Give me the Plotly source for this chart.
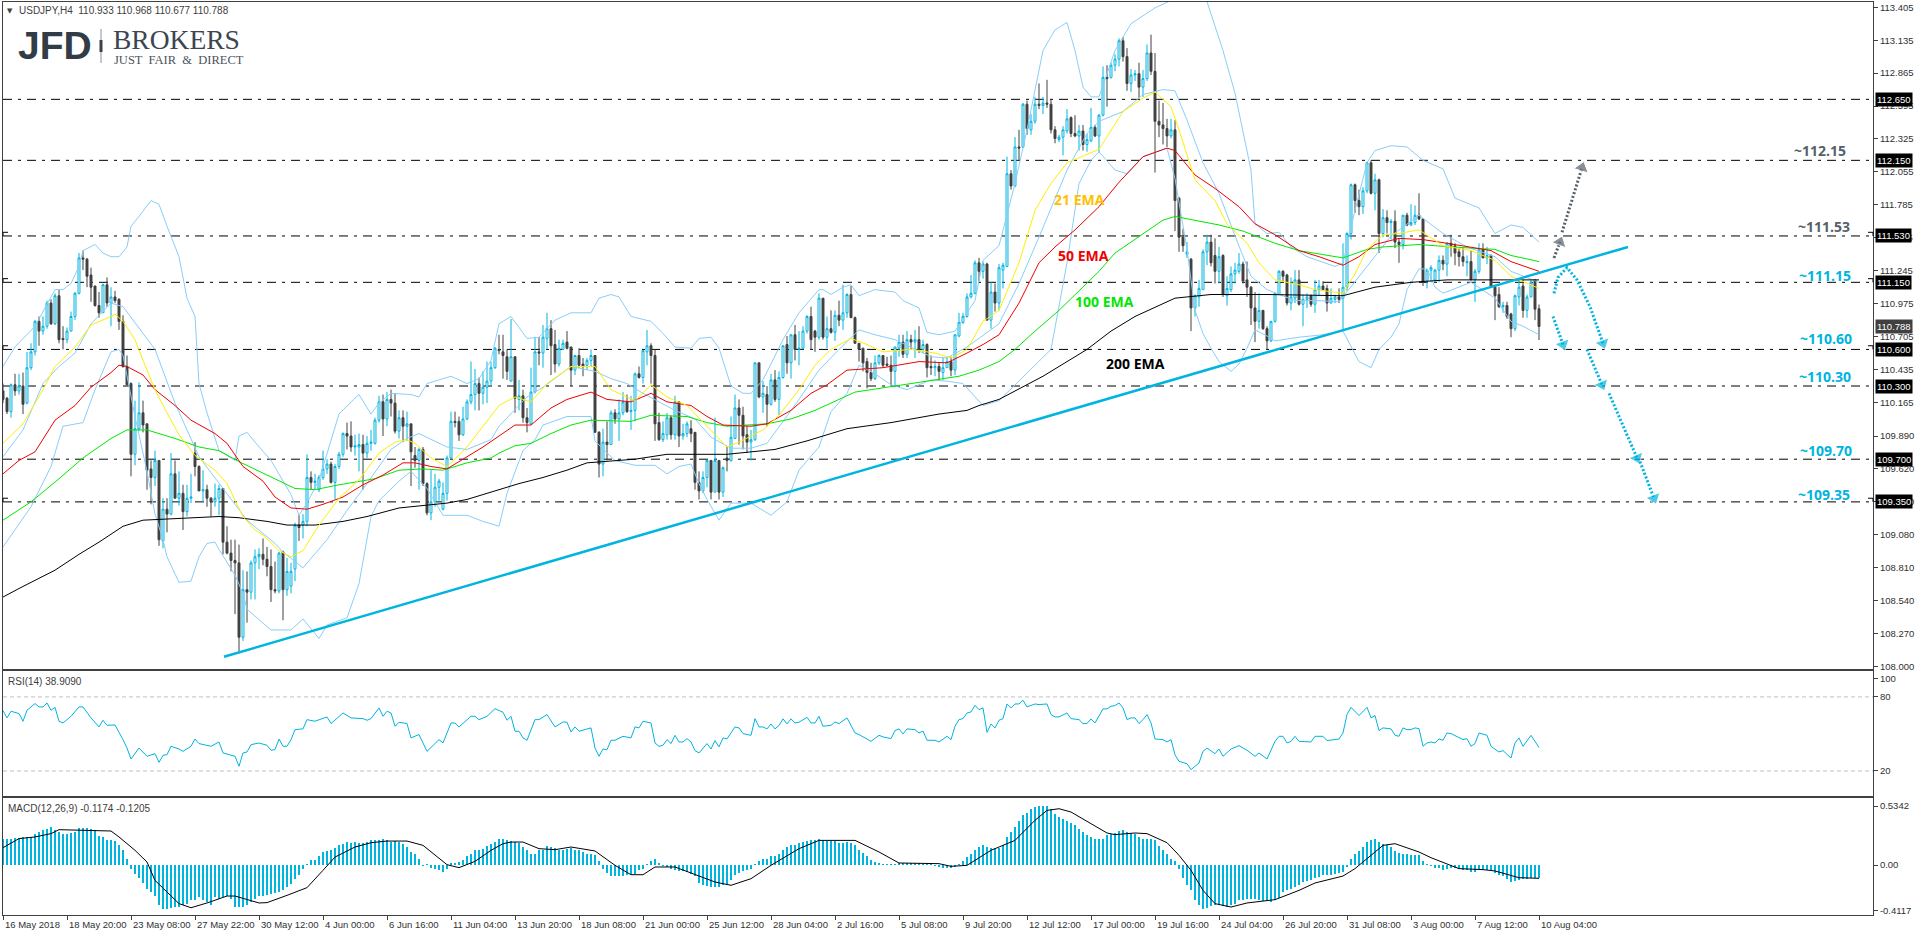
import plotly.graph_objects as go

opens = [
    110.26,110.20,110.09,110.31,110.26,110.30,110.16,110.45,110.58,110.83,
    110.75,110.79,110.98,110.81,111.04,110.69,110.68,110.75,110.87,111.06,
    111.35,111.34,111.21,111.12,110.96,110.90,111.13,110.98,111.03,111.01,
    110.83,110.46,110.32,109.74,109.95,110.08,109.99,109.62,109.55,109.69,
    109.03,109.29,109.25,109.58,109.38,109.42,109.27,109.38,109.75,109.64,
    109.44,109.45,109.38,109.35,109.38,109.46,109.02,108.93,108.87,108.85,
    108.24,108.63,108.61,108.85,108.90,108.92,108.88,108.82,108.63,108.62,
    108.94,108.63,108.66,108.80,109.16,109.16,109.19,109.55,109.51,109.45,
    109.55,109.62,109.66,109.51,109.64,109.74,109.91,109.89,109.80,109.80,
    109.82,109.75,109.83,109.83,110.02,110.17,110.03,110.19,110.16,109.93,
    110.04,109.97,109.99,109.73,109.69,109.78,109.50,109.26,109.35,109.47,
    109.29,109.42,109.71,110.01,110.01,109.90,110.03,110.17,110.23,110.32,
    110.24,110.29,110.34,110.45,110.60,110.58,110.54,110.34,110.54,110.19,
    110.22,110.04,109.99,110.25,110.58,110.57,110.69,110.77,110.64,110.48,
    110.60,110.66,110.62,110.43,110.55,110.48,110.47,110.51,110.55,109.92,
    109.66,109.84,109.82,110.08,110.03,110.08,110.17,110.09,110.10,110.40,
    110.37,110.58,110.63,110.55,110.00,109.86,109.90,110.04,109.90,110.17,
    109.89,109.91,109.95,109.92,109.51,109.44,109.55,109.69,109.43,109.69,
    109.43,109.71,109.69,109.87,110.12,110.06,109.90,109.84,109.86,110.49,
    110.21,110.23,110.15,110.35,110.19,110.37,110.64,110.49,110.72,110.60,
    110.61,110.75,110.87,110.75,110.70,111.02,110.70,110.77,110.74,110.88,
    110.84,110.90,111.05,110.86,110.65,110.61,110.50,110.41,110.36,110.49,
    110.55,110.48,110.47,110.42,110.61,110.66,110.56,110.68,110.66,110.68,
    110.60,110.64,110.46,110.45,110.46,110.41,110.45,110.50,110.43,110.71,
    110.82,110.87,111.03,111.06,111.31,111.24,111.30,110.84,111.07,110.98,
    111.25,111.28,112.04,111.94,112.26,112.26,112.61,112.40,112.47,112.61,
    112.60,112.62,112.61,112.40,112.32,112.34,112.39,112.50,112.37,112.35,
    112.39,112.28,112.31,112.42,112.35,112.52,112.83,112.83,112.93,112.98,
    113.13,113.00,112.78,112.85,112.86,112.75,112.82,113.03,112.88,112.47,
    112.44,112.41,112.35,112.40,111.84,111.52,111.38,111.34,110.94,111.03,
    111.09,111.40,111.48,111.37,111.24,111.37,111.04,111.09,111.22,111.24,
    111.30,111.17,111.11,110.94,110.83,110.92,110.77,110.67,110.83,111.05,
    111.24,111.21,110.98,111.02,111.17,110.97,111.01,111.04,110.97,111.09,
    111.12,111.10,110.98,111.01,111.03,111.02,111.11,111.55,111.95,111.82,
    111.77,111.90,112.13,111.88,111.99,111.55,111.68,111.64,111.65,111.48,
    111.46,111.70,111.62,111.64,111.70,111.67,111.16,111.25,111.17,111.25,
    111.33,111.30,111.47,111.45,111.40,111.36,111.31,111.32,111.17,111.24,
    111.42,111.35,111.37,111.11,111.05,110.95,110.96,110.89,110.77,111.03,
    111.12,110.92,111.03,111.17,110.933,
]
highs = [
    110.32,110.21,110.32,110.40,110.40,110.41,110.58,110.65,110.84,110.87,
    110.87,111.00,111.01,111.06,111.09,110.79,110.78,110.91,111.07,111.39,
    111.41,111.35,111.27,111.12,111.07,111.14,111.19,111.11,111.08,111.02,
    110.88,110.55,110.33,110.18,110.33,110.18,109.99,109.69,109.77,109.69,
    109.38,109.38,109.75,109.69,109.60,109.49,109.49,109.58,109.84,109.65,
    109.61,109.49,109.39,109.50,109.49,109.46,109.15,109.04,109.04,109.00,
    108.79,108.78,108.87,108.96,108.97,109.05,108.98,108.96,108.86,108.94,
    108.95,108.89,108.85,109.18,109.24,109.25,109.74,109.60,109.58,109.57,
    109.77,109.70,109.68,109.66,109.76,109.92,110.00,110.01,109.90,109.91,
    109.90,109.89,109.94,110.04,110.22,110.23,110.25,110.27,110.24,110.10,
    110.10,110.09,109.99,109.80,109.79,109.80,109.51,109.61,109.58,109.54,
    109.51,109.73,110.09,110.09,110.05,110.13,110.19,110.50,110.44,110.37,
    110.42,110.50,110.50,110.62,110.72,110.72,110.60,110.85,110.54,110.35,
    110.27,110.12,110.45,110.70,110.70,110.80,110.90,110.84,110.76,110.68,
    110.68,110.75,110.62,110.55,110.61,110.53,110.53,110.60,110.55,109.93,
    109.95,110.01,110.10,110.11,110.19,110.25,110.23,110.22,110.41,110.46,
    110.59,110.76,110.65,110.60,110.08,110.01,110.08,110.06,110.22,110.17,
    109.99,110.01,110.02,109.92,109.60,109.60,109.69,109.69,110.04,109.69,
    109.64,109.80,110.05,110.23,110.19,110.13,109.97,109.94,110.49,110.49,
    110.34,110.30,110.40,110.43,110.42,110.63,110.71,110.72,110.80,110.75,
    110.79,110.88,110.95,110.76,111.06,111.02,110.87,110.92,110.92,111.00,
    111.13,111.06,111.12,110.87,110.65,110.61,110.53,110.49,110.55,110.56,
    110.55,110.54,110.55,110.62,110.72,110.72,110.75,110.72,110.76,110.79,
    110.68,110.65,110.55,110.51,110.49,110.53,110.54,110.54,110.72,110.90,
    110.90,111.06,111.21,111.33,111.35,111.32,111.31,111.15,111.14,111.30,
    111.31,112.18,112.07,112.34,112.40,112.62,112.64,112.53,112.67,112.78,
    112.67,112.81,112.65,112.43,112.36,112.43,112.57,112.51,112.52,112.44,
    112.44,112.37,112.58,112.44,112.53,112.92,112.93,112.95,113.02,113.15,
    113.16,113.07,112.90,112.89,112.95,112.89,113.10,113.18,113.03,112.64,
    112.62,112.49,112.49,112.48,111.85,111.59,111.48,111.35,111.05,111.17,
    111.42,111.54,111.54,111.51,111.44,111.38,111.20,111.28,111.31,111.39,
    111.32,111.32,111.12,111.07,111.06,110.92,110.79,110.83,111.06,111.25,
    111.25,111.22,111.19,111.25,111.25,111.05,111.06,111.05,111.17,111.17,
    111.16,111.13,111.10,111.05,111.10,111.47,111.56,111.96,111.96,111.91,
    111.93,112.14,112.15,112.04,112.00,111.75,111.74,111.67,111.74,111.51,
    111.70,111.72,111.79,111.78,111.88,111.67,111.26,111.29,111.26,111.37,
    111.37,111.48,111.54,111.47,111.43,111.43,111.37,111.41,111.26,111.47,
    111.47,111.44,111.38,111.13,111.11,110.99,110.99,110.90,111.05,111.17,
    111.17,111.05,111.17,111.17,110.968,
]
lows = [
    110.16,110.07,110.04,110.22,110.23,110.07,110.15,110.43,110.55,110.63,
    110.72,110.77,110.80,110.80,110.65,110.60,110.65,110.75,110.84,111.05,
    111.25,111.11,110.99,110.95,110.86,110.90,110.95,110.79,110.98,110.76,
    110.45,110.31,109.56,109.65,109.93,109.92,109.45,109.33,109.48,108.99,
    108.97,109.10,109.24,109.38,109.32,109.12,109.23,109.34,109.56,109.44,
    109.35,109.31,109.23,109.31,109.24,108.92,108.92,108.78,108.43,108.11,
    108.21,108.36,108.55,108.55,108.80,108.83,108.74,108.53,108.60,108.60,
    108.38,108.58,108.60,108.70,109.03,109.05,109.15,109.45,109.45,109.43,
    109.53,109.58,109.50,109.37,109.62,109.72,109.78,109.76,109.73,109.60,
    109.45,109.71,109.77,109.82,110.00,109.89,109.97,110.05,109.91,109.87,
    109.84,109.85,109.48,109.63,109.45,109.48,109.24,109.20,109.31,109.36,
    109.28,109.36,109.70,109.96,109.85,109.89,110.02,110.15,110.10,110.10,
    110.15,110.16,110.30,110.44,110.56,110.36,110.35,110.34,110.08,110.10,
    110.00,109.92,109.98,110.24,110.47,110.45,110.60,110.39,110.41,110.46,
    110.60,110.60,110.30,110.39,110.45,110.38,110.43,110.46,109.92,109.55,
    109.56,109.69,109.82,109.99,109.85,110.06,110.08,109.94,110.01,110.36,
    110.32,110.47,110.32,109.85,109.85,109.84,109.86,109.86,109.86,109.80,
    109.86,109.88,109.84,109.45,109.37,109.42,109.47,109.37,109.43,109.37,
    109.39,109.60,109.68,109.87,109.82,109.78,109.75,109.69,109.85,110.20,
    110.08,109.97,110.14,110.17,110.06,110.36,110.40,110.36,110.51,110.47,
    110.60,110.73,110.60,110.58,110.68,110.68,110.61,110.73,110.67,110.79,
    110.76,110.86,110.86,110.65,110.50,110.42,110.28,110.34,110.35,110.47,
    110.45,110.46,110.30,110.30,110.54,110.53,110.53,110.60,110.53,110.57,
    110.57,110.37,110.39,110.38,110.34,110.35,110.45,110.38,110.39,110.70,
    110.81,110.86,111.02,111.05,111.16,111.18,110.84,110.77,110.91,110.92,
    111.10,111.28,111.91,111.93,112.15,112.25,112.36,112.36,112.45,112.57,
    112.53,112.58,112.37,112.29,112.30,112.19,112.37,112.34,112.34,112.23,
    112.23,112.22,112.30,112.34,112.21,112.51,112.59,112.82,112.88,112.92,
    112.96,112.72,112.71,112.80,112.66,112.67,112.80,112.85,112.05,112.34,
    112.28,112.26,112.33,111.57,111.40,111.40,111.35,110.75,110.87,110.95,
    111.09,111.29,111.28,111.14,111.14,111.03,110.96,111.07,111.14,111.22,
    111.14,111.03,110.80,110.66,110.77,110.76,110.60,110.66,110.82,111.05,
    111.16,110.96,110.92,110.98,110.96,110.79,110.94,110.95,110.90,111.04,
    111.09,110.91,110.98,110.98,110.98,110.76,111.08,111.50,111.72,111.70,
    111.71,111.88,111.87,111.74,111.39,111.52,111.55,111.50,111.43,111.31,
    111.42,111.61,111.61,111.62,111.66,111.12,111.10,111.15,111.15,111.15,
    111.25,111.20,111.36,111.29,111.28,111.28,111.20,111.17,110.99,111.22,
    111.35,111.30,111.11,110.84,110.94,110.90,110.85,110.70,110.75,110.96,
    110.86,110.86,111.03,110.84,110.677,
]
closes = [
    110.19,110.09,110.31,110.26,110.30,110.15,110.45,110.58,110.83,110.75,
    110.79,110.98,110.81,111.04,110.68,110.68,110.75,110.87,111.06,111.35,
    111.34,111.20,111.11,110.96,110.90,111.13,110.98,111.03,111.00,110.83,
    110.46,110.31,109.74,109.95,110.08,109.98,109.61,109.55,109.69,109.04,
    109.29,109.25,109.58,109.38,109.42,109.27,109.38,109.39,109.64,109.44,
    109.45,109.38,109.35,109.38,109.46,109.02,108.93,108.87,108.85,108.24,
    108.63,108.61,108.85,108.90,108.92,108.88,108.82,108.63,108.62,108.93,
    108.63,108.78,108.78,109.16,109.14,109.19,109.55,109.51,109.52,109.55,
    109.62,109.66,109.51,109.64,109.74,109.91,109.89,109.80,109.81,109.82,
    109.75,109.83,109.84,110.02,110.17,110.03,110.19,110.16,109.93,110.04,
    109.97,109.99,109.76,109.69,109.78,109.50,109.26,109.35,109.47,109.52,
    109.42,109.71,110.01,110.00,109.90,110.03,110.17,110.23,110.32,110.24,
    110.29,110.34,110.45,110.61,110.59,110.55,110.42,110.54,110.20,110.22,
    110.04,110.00,110.25,110.58,110.57,110.70,110.77,110.63,110.48,110.61,
    110.65,110.61,110.43,110.55,110.47,110.46,110.51,110.55,109.92,109.66,
    109.84,109.82,110.08,110.03,110.08,110.17,110.09,110.10,110.40,110.37,
    110.59,110.63,110.55,109.99,109.86,109.91,110.04,109.90,110.17,109.89,
    109.91,109.99,109.91,109.51,109.44,109.55,109.69,109.43,109.69,109.43,
    109.63,109.69,109.88,110.12,110.06,109.89,109.84,109.86,110.49,110.21,
    110.24,110.15,110.35,110.19,110.37,110.63,110.49,110.72,110.60,110.61,
    110.75,110.87,110.68,110.70,111.02,110.70,110.77,110.74,110.88,110.84,
    110.90,111.05,110.86,110.65,110.60,110.49,110.41,110.36,110.49,110.55,
    110.47,110.47,110.42,110.62,110.66,110.56,110.68,110.66,110.68,110.60,
    110.64,110.45,110.45,110.46,110.42,110.45,110.50,110.43,110.72,110.82,
    110.87,111.03,111.06,111.31,111.24,111.30,110.84,111.07,110.98,111.27,
    111.29,112.04,111.94,112.26,112.25,112.61,112.41,112.47,112.61,112.60,
    112.62,112.61,112.40,112.33,112.34,112.40,112.49,112.37,112.35,112.39,
    112.28,112.32,112.42,112.35,112.52,112.83,112.82,112.93,112.98,113.13,
    113.00,112.78,112.85,112.86,112.75,112.82,113.03,112.88,112.47,112.44,
    112.41,112.35,112.40,111.82,111.52,111.45,111.40,110.94,111.04,111.10,
    111.40,111.48,111.31,111.24,111.36,111.05,111.10,111.22,111.25,111.30,
    111.16,111.11,110.94,110.83,110.92,110.77,110.67,110.83,111.06,111.24,
    111.20,110.98,111.03,111.17,110.97,111.01,111.03,110.97,111.09,111.12,
    111.09,110.98,111.02,111.03,111.01,111.11,111.55,111.95,111.82,111.77,
    111.90,112.13,111.88,111.99,111.55,111.68,111.64,111.65,111.48,111.46,
    111.70,111.62,111.64,111.70,111.67,111.15,111.25,111.27,111.25,111.33,
    111.30,111.47,111.45,111.39,111.36,111.32,111.32,111.17,111.24,111.42,
    111.35,111.37,111.11,111.04,110.95,110.96,110.87,110.77,111.04,111.11,
    110.92,111.03,111.15,110.93,110.788,
]
bars = list(range(len(closes)))

# moving averages and bands, read at the bars where the line turns
ema21_x = [0,5,10,13,18,22,27,28,30,33,35,38,41,44,48,53,56,60,63,65,69,72,75,79,84,89,94,98,101,103,107,111,116,120,124,128,132,136,142,148,152,158,162,166,171,176,181,184,190,194,199,203,207,212,216,220,227,233,237,241,245,249,254,258,262,266,274,280,285,288,292,294,298,303,306,311,314,318,324,328,335,338,341,345,349,354,360,367,373,377,384]
ema21 = [109.83,109.99,110.27,110.46,110.62,110.80,110.87,110.89,110.83,110.68,110.51,110.27,110.08,109.90,109.73,109.61,109.50,109.23,109.12,109.08,108.95,108.90,108.95,109.16,109.38,109.53,109.75,109.84,109.86,109.83,109.71,109.64,109.80,109.97,110.14,110.21,110.17,110.32,110.46,110.46,110.27,110.18,110.31,110.21,110.14,109.97,109.80,109.84,109.94,110.06,110.27,110.47,110.60,110.69,110.64,110.58,110.60,110.57,110.53,110.60,110.83,110.92,111.31,111.74,111.96,112.13,112.24,112.55,112.66,112.71,112.59,112.40,111.99,111.82,111.63,111.47,111.31,111.17,111.13,111.09,111.06,111.22,111.42,111.54,111.55,111.58,111.45,111.41,111.33,111.20,111.10]
ema50_x = [0,4,8,13,18,22,27,29,31,35,38,43,47,53,56,60,65,68,72,76,80,85,90,95,100,103,107,111,116,120,124,128,132,137,141,147,151,157,162,166,172,176,180,187,191,197,202,206,211,220,229,236,241,245,249,254,259,263,268,274,279,285,291,293,298,303,309,313,318,324,329,335,339,343,349,355,361,368,372,377,384]
ema50 = [109.58,109.69,109.76,110.02,110.14,110.29,110.41,110.47,110.46,110.39,110.27,110.14,110.02,109.91,109.83,109.64,109.52,109.39,109.30,109.29,109.33,109.39,109.49,109.57,109.67,109.67,109.64,109.62,109.72,109.80,109.89,109.98,109.98,110.12,110.19,110.25,110.19,110.17,110.24,110.17,110.14,110.05,109.98,109.97,109.99,110.10,110.24,110.31,110.43,110.45,110.50,110.49,110.57,110.64,110.72,110.98,111.31,111.44,111.58,111.77,111.97,112.18,112.25,112.23,112.03,111.92,111.77,111.63,111.54,111.41,111.36,111.29,111.36,111.46,111.51,111.50,111.47,111.43,111.41,111.32,111.24]
ema100_x = [0,7,14,20,27,31,36,43,49,54,59,66,73,78,84,93,99,105,110,116,122,124,128,132,137,142,147,157,162,171,176,181,191,197,203,209,213,223,233,239,244,249,253,258,264,270,274,278,285,290,293,299,304,310,318,324,329,335,341,345,354,362,373,377,384]
ema100 = [109.20,109.35,109.54,109.71,109.87,109.94,109.94,109.87,109.80,109.77,109.68,109.57,109.46,109.45,109.49,109.54,109.61,109.62,109.61,109.67,109.71,109.75,109.81,109.83,109.91,109.98,110.02,110.01,110.06,110.05,110.00,109.97,109.99,110.03,110.10,110.19,110.25,110.30,110.35,110.38,110.43,110.50,110.60,110.75,110.92,111.11,111.24,111.39,111.55,111.66,111.69,111.65,111.62,111.57,111.47,111.41,111.38,111.35,111.42,111.44,111.46,111.44,111.42,111.37,111.32]
ema200_x = [0,4,13,19,24,30,35,41,49,54,59,66,71,78,85,91,99,106,111,116,120,124,129,135,141,146,158,166,181,193,201,211,222,234,241,244,249,260,271,277,283,293,302,316,335,343,352,361,376,384]
ema200 = [108.57,108.64,108.79,108.92,109.02,109.15,109.20,109.21,109.22,109.23,109.22,109.19,109.16,109.16,109.19,109.23,109.30,109.32,109.34,109.37,109.41,109.45,109.50,109.55,109.61,109.67,109.70,109.74,109.74,109.78,109.85,109.95,110.00,110.07,110.10,110.14,110.19,110.38,110.60,110.75,110.87,111.02,111.05,111.05,111.04,111.11,111.15,111.17,111.17,111.17]
bb_up_x = [0,3,8,12,13,15,17,19,20,23,25,27,29,31,32,34,37,39,41,44,46,48,49,51,54,58,59,61,63,67,72,74,76,79,84,88,89,92,94,97,102,104,106,110,112,116,119,122,124,127,131,134,138,142,147,149,152,154,157,162,165,168,172,174,177,179,182,185,187,190,195,199,204,205,207,210,212,214,218,223,225,229,231,234,238,243,245,249,253,256,260,263,266,268,270,272,274,278,282,288,292,296,300,305,308,312,313,316,319,322,326,333,335,338,341,343,347,351,355,360,363,369,373,377,380,384]
bb_up = [110.46,110.62,110.79,111.03,111.09,111.09,111.14,111.28,111.41,111.46,111.39,111.36,111.36,111.44,111.61,111.69,111.82,111.79,111.61,111.36,111.02,110.87,110.32,110.08,109.77,109.69,109.89,109.92,109.84,109.69,109.41,109.24,109.34,109.53,110.07,110.20,110.23,110.07,110.16,110.24,110.23,110.21,110.32,110.36,110.38,110.32,110.36,110.51,110.81,110.87,110.69,110.70,110.84,110.90,110.90,111.02,111.05,111.03,110.87,110.83,110.73,110.62,110.61,110.69,110.70,110.61,110.30,110.24,110.24,110.35,110.68,110.90,111.09,111.09,111.05,111.11,111.13,111.04,111.09,111.07,111.00,110.94,110.74,110.72,110.75,111.00,111.33,111.45,111.96,112.40,113.05,113.22,113.28,113.05,112.75,112.67,112.67,113.05,113.27,113.40,113.46,113.60,113.55,113.05,112.70,112.07,111.63,111.55,111.56,111.44,111.36,111.28,111.31,111.74,112.13,112.23,112.27,112.26,112.15,112.08,111.84,111.76,111.55,111.62,111.60,111.48]
bb_mid_x = [0,5,10,14,18,22,27,30,38,43,49,54,61,68,70,75,81,86,91,97,101,104,111,116,122,124,131,135,142,148,152,156,160,164,168,173,177,182,187,191,196,199,204,209,214,218,223,227,232,236,241,249,254,259,266,271,274,280,285,290,293,296,300,304,308,312,316,323,329,334,338,341,347,354,360,366,373,377,384]
bb_mid = [109.72,109.94,110.32,110.46,110.57,110.81,110.98,110.95,110.60,110.16,109.72,109.50,109.20,109.01,108.94,108.81,109.04,109.28,109.50,109.78,109.87,109.91,109.80,109.78,109.86,109.97,110.21,110.29,110.46,110.42,110.36,110.32,110.24,110.17,110.10,110.03,109.88,109.79,109.79,109.83,110.05,110.19,110.43,110.60,110.76,110.72,110.68,110.62,110.54,110.53,110.62,110.81,111.14,111.52,112.07,112.37,112.47,112.55,112.69,112.73,112.72,112.48,112.13,111.88,111.53,111.20,111.09,111.00,111.00,110.99,111.16,111.28,111.53,111.70,111.55,111.44,111.36,111.24,111.15]
bb_low_x = [0,7,12,15,20,23,27,29,30,33,36,38,40,41,44,47,49,51,53,54,58,60,61,67,72,75,79,81,86,89,92,94,99,102,106,110,116,120,124,126,130,133,135,141,147,148,151,153,158,163,166,169,172,174,176,179,182,187,192,196,199,204,207,211,214,218,222,226,232,236,240,245,249,262,266,269,272,274,278,281,285,291,293,296,298,300,302,304,307,309,311,313,316,318,324,330,335,337,339,342,344,347,349,351,354,356,358,360,364,367,373,377,380,384]
bb_low = [108.98,109.31,109.64,109.97,110.00,110.27,110.58,110.60,110.55,110.05,109.60,109.25,109.04,108.90,108.69,108.70,108.90,109.01,109.02,108.96,108.75,108.60,108.47,108.30,108.30,108.39,108.23,108.34,108.40,108.68,109.23,109.36,109.52,109.60,109.46,109.24,109.24,109.19,109.15,109.42,109.77,109.86,109.98,110.05,110.05,109.85,109.75,109.69,109.65,109.65,109.58,109.64,109.66,109.50,109.37,109.20,109.34,109.34,109.24,109.35,109.61,109.80,110.09,110.24,110.47,110.40,110.31,110.27,110.35,110.34,110.32,110.14,110.18,110.60,111.31,111.96,112.15,112.22,112.07,112.04,112.18,112.25,112.00,111.42,110.92,110.73,110.61,110.50,110.42,110.48,110.61,110.76,110.71,110.67,110.70,110.72,110.75,110.62,110.50,110.45,110.60,110.70,110.81,111.09,111.26,111.26,111.11,111.06,111.11,111.15,111.02,110.83,110.79,110.72]

# trend line and projected paths
trend_x = [55.25, 406.25]
trend_y = [108.08, 111.44]
up_paths = [([387.75, 389.25], [111.35, 111.48]), ([389.75, 394.75], [111.56, 112.09])]
down_paths = [
    ([387.75, 388.75, 391, 393.5, 396.75, 400], [111.06, 111.19, 111.27, 111.17, 110.95, 110.65]),
    ([387.5, 390], [110.87, 110.64]),
    ([396, 399.75], [110.60, 110.31]),
    ([401.5, 408.5], [110.24, 109.71]),
    ([409.25, 412.75], [109.68, 109.38]),
]

levels = [112.65, 112.15, 111.53, 111.15, 110.60, 110.30, 109.70, 109.35]
level_text = ["112.650", "112.150", "111.530", "111.150", "110.600", "110.300", "109.700", "109.350"]
marked_levels = [111.53, 111.15, 110.60, 109.35]
price_ticks = [113.405,113.135,112.865,112.595,112.325,112.055,111.785,111.515,111.245,110.975,110.705,110.435,110.165,109.89,109.62,109.35,109.08,108.81,108.54,108.27,108.0]

rsi_x = [0,1,2,4,5,6,8,9,10,11,12,13,14,15,17,19,20,22,24,25,26,28,30,31,32,34,36,38,39,40,41,42,44,45,47,48,49,52,54,55,58,59,60,61,62,64,66,67,68,69,70,71,72,73,75,76,78,81,82,85,87,90,91,92,94,95,96,97,98,99,101,102,104,106,109,110,112,113,114,117,118,119,121,123,125,126,127,128,129,130,131,133,134,136,138,140,141,142,143,144,147,148,149,150,151,152,153,155,157,158,159,
    160,162,163,164,165,166,167,168,169,170,171,172,173,174,176,177,178,179,180,181,183,184,185,187,188,189,190,191,192,193,194,195,196,197,198,199,201,202,203,204,205,207,208,209,211,213,214,217,219,220,222,223,224,225,226,228,229,230,231,233,234,236,237,238,239,240,241,242,243,244,245,246,247,248,249,250,251,252,253,254,255,256,258,259,261,262,263,264,266,267,269,270,271,272,273,275,276,277,278,279,280,281,282,283,284,285,286,287,288,290,291,292,293,294,296,297,299,300,301,303,304,305,307,309,311,313,314,316,318,
    319,320,321,322,323,324,327,328,330,331,334,335,336,337,339,341,342,343,344,345,347,348,349,350,351,352,353,354,355,356,357,358,359,360,361,362,365,366,367,368,369,371,372,374,375,377,378,379,380,382,383,384]
rsi = [68.9,63.0,68.4,66.5,60.3,69.2,74.6,71.9,71.9,75.1,69.2,71.6,60.3,58.9,64.3,71.9,71.9,63.0,55.7,61.1,57.0,57.3,45.4,38.6,29.7,38.6,31.9,34.0,27.0,32.7,33.2,40.0,37.8,35.9,40.0,45.9,42.2,40.0,43.5,34.6,31.9,23.8,34.6,35.4,41.3,42.7,40.8,36.8,37.3,45.9,40.0,40.0,45.4,53.5,54.1,61.6,60.3,63.8,58.4,67.0,63.0,62.4,61.1,62.4,71.1,64.3,68.4,67.0,56.2,59.5,58.4,46.8,49.5,35.9,45.4,42.7,58.9,58.9,55.7,64.3,64.3,61.6,64.3,70.5,67.6,61.1,64.3,52.2,52.2,46.8,44.9,61.6,61.6,65.7,55.7,59.7,59.5,51.6,55.7,52.2,54.9,38.6,31.9,37.8,37.3,44.9,44.9,48.1,46.8,55.7,54.9,
    60.3,58.9,42.7,40.0,40.8,45.4,42.2,48.9,43.5,43.5,46.2,43.5,36.5,34.6,42.2,37.8,44.6,39.5,46.8,46.0,55.7,54.9,50.3,48.9,62.4,55.7,55.7,54.1,58.1,54.1,56.8,62.2,58.1,62.2,58.9,59.5,63.5,58.9,58.9,64.3,56.2,57.0,59.7,58.4,63.0,50.8,49.5,44.0,48.9,47.6,46.2,52.7,54.1,50.0,54.1,53.5,50.8,52.4,44.9,44.9,43.5,48.1,45.4,56.2,61.6,62.4,67.0,67.8,73.2,69.7,71.1,51.3,58.1,54.9,61.1,62.4,74.3,71.1,74.3,74.3,77.3,71.9,74.3,73.8,74.3,65.7,63.8,63.8,67.0,62.4,61.6,58.4,58.4,62.2,58.9,70.3,70.3,72.4,73.0,75.1,71.1,61.6,63.0,63.0,58.4,61.6,65.7,58.9,45.9,45.4,43.5,45.4,33.2,27.8,25.9,21.1,26.5,35.9,38.6,34.0,37.8,31.9,37.8,40.5,36.8,31.9,34.6,29.7,44.0,
    48.1,48.1,42.7,44.0,48.1,44.0,43.5,48.1,48.1,44.6,45.9,50.8,65.7,71.6,64.9,71.6,63.0,64.9,52.7,54.9,54.1,48.9,48.1,54.9,53.5,53.5,54.9,54.3,40.0,42.7,43.5,42.7,45.9,44.9,50.8,50.3,45.4,46.2,40.0,42.2,50.8,48.9,40.0,35.4,36.5,30.5,42.7,46.8,40.0,48.9,44.0,38.9]
rsi_guides = [80, 20]

macd_hist = [
    .239,.233,.239,.245,.245,.251,.254,.254,.284,.302,
    .314,.329,.344,.320,.299,.284,.284,.293,.299,.335,
    .338,.335,.329,.314,.263,.254,.230,.223,.217,.178,
    .133,.057,-.033,-.085,-.115,-.160,-.214,-.245,-.284,-.359,
    -.396,-.399,-.390,-.381,-.381,-.365,-.350,-.320,-.314,-.290,
    -.314,-.335,-.365,-.290,-.305,-.290,-.284,-.305,-.381,-.381,
    -.381,-.365,-.335,-.305,-.284,-.284,-.275,-.260,-.254,-.245,
    -.230,-.199,-.169,-.124,-.094,-.033,.002,.042,.048,.079,
    .118,.127,.139,.157,.178,.193,.208,.202,.208,.202,
    .199,.208,.223,.223,.223,.239,.223,.208,.217,.208,
    .193,.163,.118,.103,.057,-.002,.001,-.024,-.039,-.048,
    -.063,-.033,.012,.018,.027,.042,.082,.103,.133,.139,
    .148,.169,.193,.208,.233,.233,.230,.217,.208,.202,
    .163,.133,.097,.103,.133,.139,.169,.163,.157,.139,
    .139,.148,.157,.139,.133,.118,.103,.097,.088,.036,
    -.033,-.069,-.100,-.103,-.103,-.100,-.094,-.079,-.079,-.048,
    -.033,.003,.036,.051,.018,-.002,-.012,-.033,-.048,-.057,
    -.057,-.063,-.079,-.100,-.165,-.184,-.190,-.199,-.199,-.199,
    -.184,-.178,-.139,-.094,-.072,-.057,-.042,-.033,.003,.036,
    .057,.057,.079,.079,.097,.133,.163,.178,.184,.199,
    .208,.217,.223,.223,.239,.223,.217,.214,.214,.202,
    .202,.208,.195,.178,.139,.109,.079,.042,.027,.018,
    .006,.002,.006,.006,.012,.012,.012,.012,.012,.012,
    .006,.012,.006,-.006,-.012,-.024,-.024,-.027,-.018,.006,
    .033,.072,.103,.133,.163,.184,.163,.157,.157,.157,
    .178,.254,.299,.344,.399,.450,.474,.510,.525,.532,
    .532,.532,.504,.465,.435,.414,.399,.384,.359,.329,
    .299,.269,.254,.239,.233,.239,.269,.284,.293,.308,
    .314,.299,.293,.284,.254,.233,.233,.233,.223,.169,
    .133,.097,.057,.036,-.033,-.115,-.184,-.230,-.314,-.365,
    -.396,-.387,-.371,-.365,-.365,-.374,-.381,-.365,-.350,-.320,
    -.314,-.311,-.305,-.311,-.320,-.326,-.329,-.335,-.314,-.296,
    -.245,-.223,-.214,-.199,-.184,-.154,-.145,-.139,-.115,-.109,
    -.094,-.094,-.088,-.079,-.072,-.063,-.018,.051,.097,.124,
    .163,.208,.223,.233,.208,.193,.178,.163,.124,.109,
    .103,.103,.088,.088,.088,.036,.006,-.006,-.024,-.030,
    -.048,-.033,-.024,-.030,-.036,-.042,-.048,-.063,-.066,-.048,
    -.042,-.042,-.048,-.072,-.094,-.103,-.124,-.154,-.148,-.133,
    -.124,-.124,-.118,-.115,-.1174,
]
macd_x = [0,4,8,12,14,23,27,29,33,36,38,41,44,47,51,56,58,64,66,71,76,80,83,88,92,96,101,105,108,111,114,118,122,125,127,130,134,138,142,148,153,157,160,163,168,174,178,182,187,192,199,204,213,219,224,234,237,241,247,253,258,261,264,267,272,276,278,283,286,291,294,297,300,303,307,311,318,324,328,333,335,338,342,345,348,352,354,357,362,364,370,373,379,384]
macd_line = [.157,.239,.254,.284,.320,.314,.308,.254,.133,.027,-.139,-.245,-.350,-.387,-.344,-.281,-.281,-.344,-.341,-.275,-.205,-.048,.072,.163,.202,.217,.217,.178,.088,.003,-.024,.033,.133,.193,.208,.208,.148,.139,.163,.127,-.003,-.088,-.088,-.018,-.018,-.100,-.154,-.184,-.124,-.003,.148,.223,.223,.118,.018,.012,-.012,-.003,.133,.223,.405,.495,.510,.480,.374,.290,.275,.290,.284,.202,.088,-.048,-.230,-.350,-.381,-.344,-.314,-.230,-.163,-.115,-.100,-.033,.088,.178,.193,.139,.118,.066,-.003,-.033,-.042,-.054,-.115,-.1205]

tick_bars = list(range(0, 385, 16))
tick_labels = ["16 May 2018","18 May 20:00","23 May 08:00","27 May 22:00","30 May 12:00","4 Jun 00:00","6 Jun 16:00","11 Jun 04:00","13 Jun 20:00","18 Jun 08:00","21 Jun 00:00","25 Jun 12:00","28 Jun 04:00","2 Jul 16:00","5 Jul 08:00","9 Jul 20:00","12 Jul 12:00","17 Jul 00:00","19 Jul 16:00","24 Jul 04:00","26 Jul 20:00","31 Jul 08:00","3 Aug 00:00","7 Aug 12:00","10 Aug 04:00"]

CYAN = "#00b4e0"
DARK = "#404040"
BAND = "#87cefa"
AXIS_FONT = dict(family="Liberation Sans", size=9.5, color="#303030")


def px(x):
    return (x - 3) / 1870


def py(y):
    return (915 - y) / 913


fig = go.Figure()

for xs, ys in [(bb_up_x, bb_up), (bb_mid_x, bb_mid), (bb_low_x, bb_low)]:
    fig.add_trace(go.Scatter(x=xs, y=ys, mode="lines", line=dict(color=BAND, width=1)))
for xs, ys, col in [(ema200_x, ema200, "black"), (ema100_x, ema100, "#00e800"),
                    (ema50_x, ema50, "#f00000"), (ema21_x, ema21, "#ffee00")]:
    fig.add_trace(go.Scatter(x=xs, y=ys, mode="lines", line=dict(color=col, width=1)))

fig.add_trace(go.Candlestick(
    x=bars, open=opens, high=highs, low=lows, close=closes,
    increasing=dict(line=dict(color=CYAN, width=1), fillcolor="white"),
    decreasing=dict(line=dict(color=DARK, width=1), fillcolor=DARK),
    whiskerwidth=0,
))
fig.add_trace(go.Scatter(x=trend_x, y=trend_y, mode="lines", line=dict(color=CYAN, width=2.5)))

for paths, col in [(up_paths, "#56616b"), (down_paths, CYAN)]:
    for xs, ys in paths:
        fig.add_trace(go.Scatter(
            x=xs, y=ys, mode="lines+markers",
            line=dict(color=col, width=3, dash="2px,2px"),
            marker=dict(symbol="triangle-up", angleref="previous", color=col,
                        size=[0] * (len(xs) - 1) + [13]),
        ))

fig.add_trace(go.Scatter(x=rsi_x, y=rsi, mode="lines", line=dict(color=CYAN, width=1), xaxis="x2", yaxis="y2"))
fig.add_trace(go.Bar(x=list(range(len(macd_hist))), y=macd_hist, width=0.24, marker=dict(color=CYAN, line=dict(width=0)), xaxis="x3", yaxis="y3"))
fig.add_trace(go.Scatter(x=macd_x, y=macd_line, mode="lines", line=dict(color="black", width=1), xaxis="x3", yaxis="y3"))

shapes = []
for lev in levels:
    shapes.append(dict(type="line", xref="paper", yref="y", x0=0, x1=1, y0=lev, y1=lev,
                       line=dict(color="black", width=1, dash="9px,6px,3px,6px"), layer="below"))
for lev in marked_levels:
    for x0, x1 in [(3, 8), (1868, 1873)]:
        shapes.append(dict(type="line", xref="paper", yref="y", x0=px(x0), x1=px(x1), y0=lev + 0.03, y1=lev + 0.03, line=dict(color="black", width=1)))
        shapes.append(dict(type="line", xref="paper", yref="y", x0=px(x1 - 5 if x0 == 3 else x1), x1=px(x1 - 5 if x0 == 3 else x1), y0=lev, y1=lev + 0.03, line=dict(color="black", width=1)))
for g in rsi_guides:
    shapes.append(dict(type="line", xref="paper", yref="y2", x0=0, x1=1, y0=g, y1=g,
                       line=dict(color="#c0c0c0", width=1, dash="4px,3px"), layer="below"))
# logo divider
shapes.append(dict(type="line", xref="paper", yref="paper", x0=px(101), x1=px(101), y0=py(29), y1=py(63), line=dict(color="#8a9098", width=1)))
shapes.append(dict(type="line", xref="paper", yref="paper", x0=px(101), x1=px(101), y0=py(40), y1=py(52), line=dict(color="#39424d", width=3)))


def note(x, y, text, font, xanchor="left", **kw):
    return dict(xref="paper", yref="paper", x=px(x), y=py(y), text=text, showarrow=False,
                xanchor=xanchor, yanchor="middle", font=font, borderpad=0, **kw)


info = dict(family="Liberation Sans", size=10, color=DARK)
anns = [
    note(6, 11, "▼", dict(family="DejaVu Sans", size=7, color=DARK)),
    note(18, 11, "USDJPY,H4  110.933 110.968 110.677 110.788", info),
    note(7, 681, "RSI(14) 38.9090", info),
    note(7, 808, "MACD(12,26,9) -0.1174 -0.1205", info),
    note(17, 45, "<b>JFD</b>", dict(family="Liberation Sans", size=39, color="#323c47")),
    note(112, 40, "BROKERS", dict(family="Liberation Serif", size=27.5, color="#3c4550")),
    note(113, 60, "JUST  FAIR  &  DIRECT", dict(family="Liberation Serif", size=12.5, color="#4a535d")),
]
ema_notes = [(1053, 199, "21 EMA", "#ffc000"), (1057, 255, "50 EMA", "#f00000"),
             (1074, 301, "100 EMA", "#00e800"), (1105, 363, "200 EMA", "black")]
for x, y, t, c in ema_notes:
    anns.append(note(x, y, "<b>" + t + "</b>", dict(family="Open Sans", size=14, color=c)))
level_notes = [(1793, 150, "~112.15", "#56616b"), (1797, 227, "~111.53", "#56616b"),
               (1798, 275, "~111.15", CYAN), (1799, 338, "~110.60", CYAN),
               (1798, 376, "~110.30", CYAN), (1799, 450, "~109.70", CYAN), (1797, 494, "~109.35", CYAN)]
for x, y, t, c in level_notes:
    anns.append(note(x, y, "<b>" + t + "</b>", dict(family="Open Sans", size=14, color=c)))
# price tags on the right axis
for lev, t in zip(levels, level_text):
    anns.append(dict(xref="paper", yref="y", x=px(1875), y=lev, text=t, showarrow=False, xanchor="left", yanchor="middle",
                     font=dict(family="Liberation Sans", size=9.5, color="white"), bgcolor="black", borderpad=1))
anns.append(dict(xref="paper", yref="y", x=px(1875), y=110.788, text="110.788", showarrow=False, xanchor="left", yanchor="middle",
                 font=dict(family="Liberation Sans", size=9.5, color="white"), bgcolor=DARK, borderpad=1))
for b, t in zip(tick_bars, tick_labels):
    anns.append(dict(xref="x3", yref="paper", x=b, y=py(924), text=t, showarrow=False, xanchor="left", yanchor="middle", font=AXIS_FONT))

frame = dict(showline=True, linecolor=DARK, linewidth=1, mirror=True, showgrid=False, zeroline=False)
x_common = dict(range=[0, 467.5], fixedrange=True, **frame)

fig.update_layout(
    width=1916, height=936, autosize=False,
    margin=dict(l=3, r=43, t=2, b=21, pad=0),
    paper_bgcolor="white", plot_bgcolor="white",
    showlegend=False, hovermode=False,
    bargap=0, shapes=shapes, annotations=anns,
    xaxis=dict(anchor="y", domain=[0, 1], showticklabels=False, ticks="", rangeslider=dict(visible=False), **x_common),
    xaxis2=dict(anchor="y2", domain=[0, 1], matches="x", showticklabels=False, ticks="", **frame),
    xaxis3=dict(anchor="y3", domain=[0, 1], matches="x", tickmode="array", tickvals=tick_bars, ticktext=[""] * len(tick_bars),
                ticks="outside", ticklen=4, tickcolor=DARK, **frame),
    yaxis=dict(domain=[py(669), 1], range=[107.98, 113.448], side="right", tickmode="array", tickvals=price_ticks,
               ticktext=["%.3f" % v for v in price_ticks], ticks="outside", ticklen=4, tickcolor=DARK, tickfont=AXIS_FONT, **frame),
    yaxis2=dict(domain=[py(796), py(671)], range=[-0.27, 101], side="right", tickmode="array", tickvals=[95, 80, 20],
                ticktext=["100", "80", "20"], ticks="outside", ticklen=4, tickcolor=DARK, tickfont=AXIS_FONT, **frame),
    yaxis3=dict(domain=[0, py(798)], range=[-0.453, 0.607], side="right", tickmode="array", tickvals=[0.5342, 0, -0.4117],
                ticktext=["0.5342", "0.00", "-0.4117"], ticks="outside", ticklen=4, tickcolor=DARK, tickfont=AXIS_FONT, **frame),
)

fig.write_html("out.html", config=dict(displayModeBar=False), post_script="document.body.style.margin='0';")
